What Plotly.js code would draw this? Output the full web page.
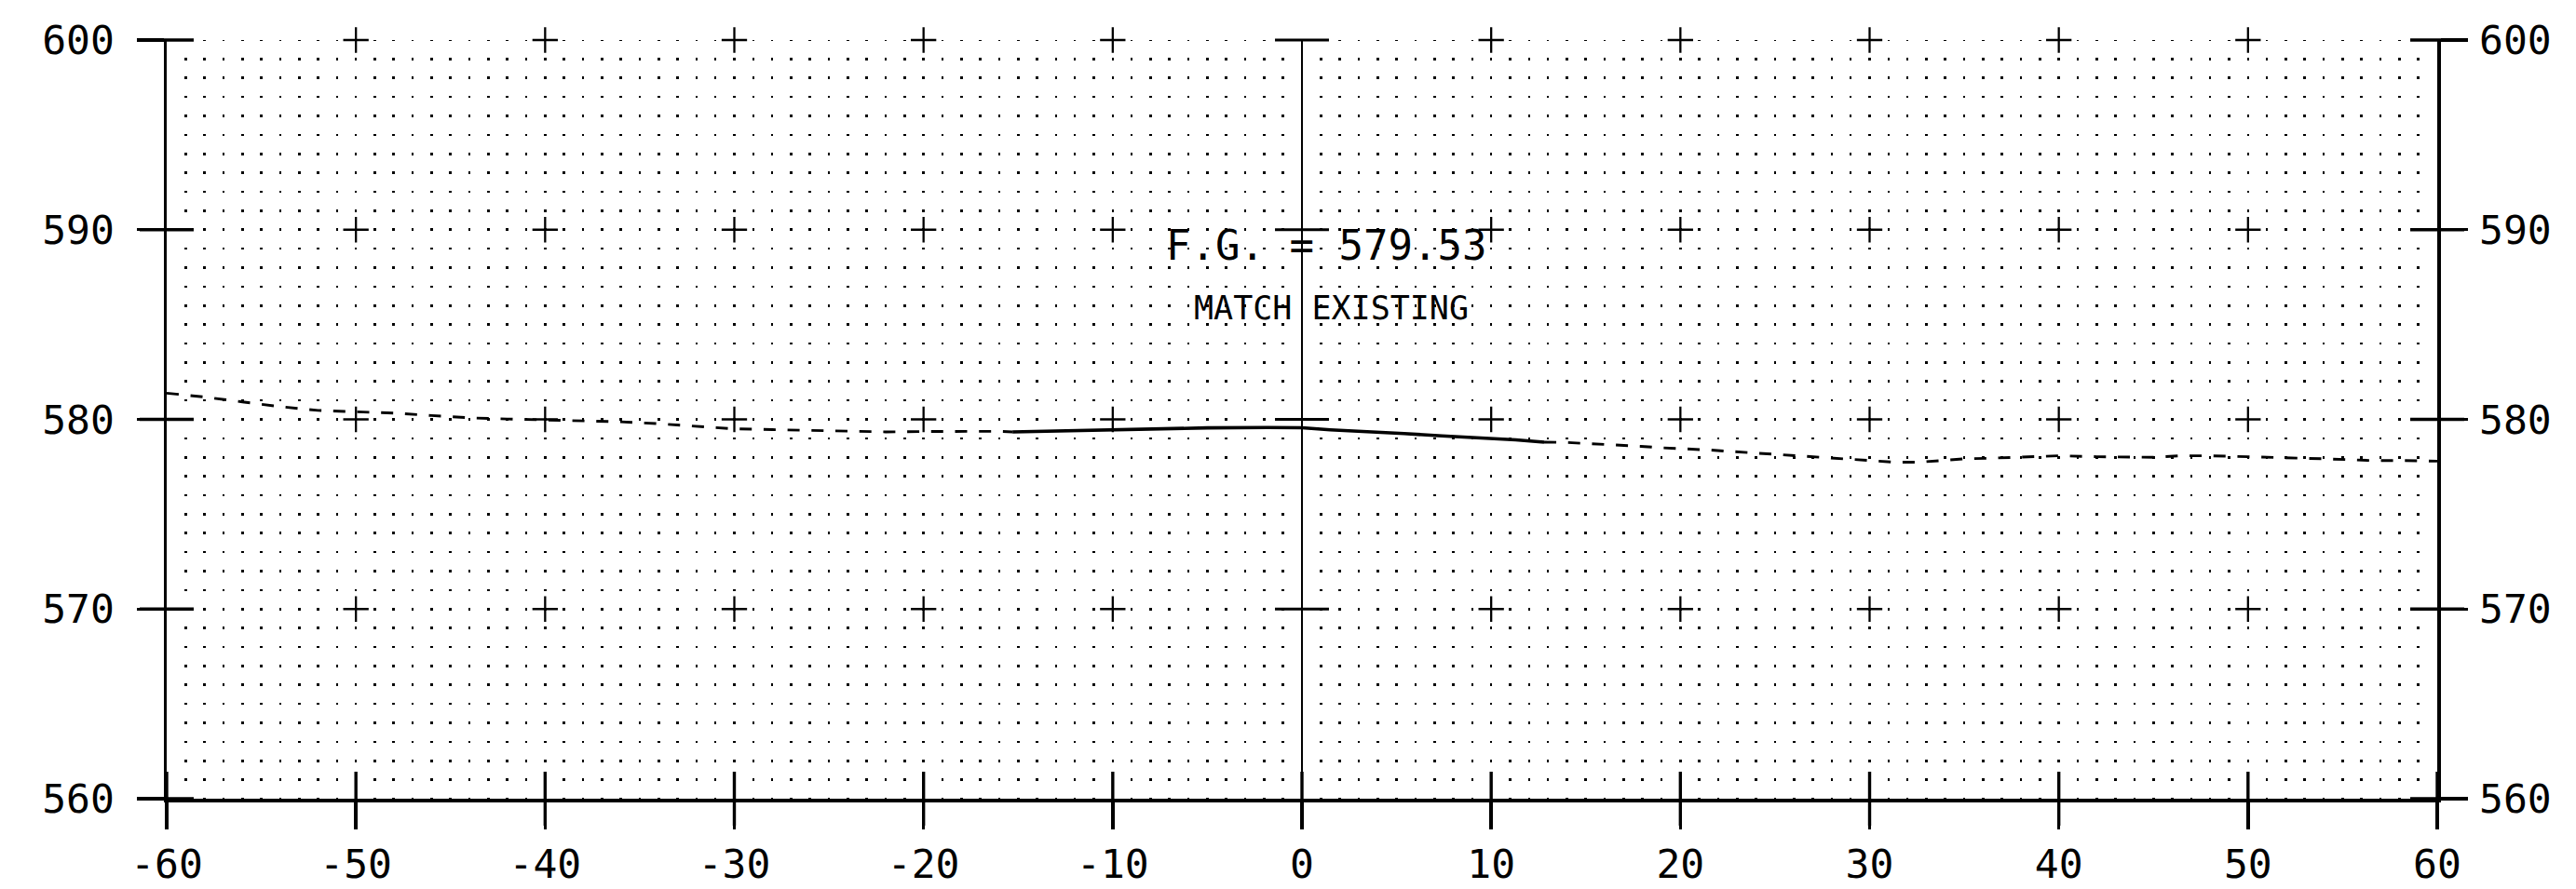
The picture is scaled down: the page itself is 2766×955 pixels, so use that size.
<!DOCTYPE html>
<html>
<head>
<meta charset="utf-8">
<script src="https://cdn.plot.ly/plotly-3.0.1.min.js"></script>
<style>
  html, body { margin: 0; padding: 0; background: #ffffff; }
  #chart { width: 2766px; height: 955px; }
</style>
</head>
<body>
<div id="chart"></div>
<script>
// ---- tick values / labels ----
const xTickVals = [-60, -50, -40, -30, -20, -10, 0, 10, 20, 30, 40, 50, 60];
const xTickText = ['-60', '-50', '-40', '-30', '-20', '-10', '0', '10', '20', '30', '40', '50', '60'];
const yTickVals = [560, 570, 580, 590, 600];
const yTickText = ['560', '570', '580', '590', '600'];

// ---- existing ground (dashed) ----
const existingX = [-60, -58, -56, -54, -52, -50, -48, -46, -44, -42, -40, -38, -36, -34, -32, -30,
                   -28, -26, -24, -22, -20, -18, -16, -15.3,
                   null,
                   12.8, 14, 15.2, 16.5, 17.9, 19.1, 20.4, 21.6, 22.8, 24.1, 25.4, 26.6, 27.9, 29.2,
                   30, 31.3, 32.5, 33.8, 35, 36.3, 37.6, 38.8, 40, 42, 44, 45, 46.4, 48, 50,
                   51.5, 52.8, 54, 55.2, 56.5, 58, 60];
const existingY = [581.38, 581.18, 580.92, 580.67, 580.47, 580.40, 580.33, 580.20, 580.08, 580.02,
                   579.98, 579.92, 579.87, 579.77, 579.65, 579.50, 579.46, 579.42, 579.38, 579.34,
                   579.36, 579.37, 579.37, 579.34,
                   null,
                   578.80, 578.78, 578.72, 578.67, 578.58, 578.50, 578.45, 578.38, 578.30, 578.22,
                   578.13, 578.05, 577.97, 577.88, 577.83, 577.74, 577.74, 577.83, 577.92, 577.95,
                   578.00, 578.03, 578.08, 578.03, 578.03, 578.00, 578.08, 578.08, 578.03,
                   578.00, 577.95, 577.92, 577.88, 577.83, 577.83, 577.80];

// ---- proposed grade (solid) ----
const proposedX = [-15.3, -12, -8.6, -5, -1.8, 0, 1.5, 3.5, 5.4, 7.4, 9.3, 11.3, 12.8];
const proposedY = [579.34, 579.42, 579.50, 579.55, 579.57, 579.56, 579.45, 579.37, 579.25, 579.13, 579.03, 578.92, 578.80];

// ---- text ----
const fgLabel = 'F.G. = 579.53';
const fgPos = { x: 0, y: 589.2 };
const noteLabel = 'MATCH EXISTING';
const notePos = { x: 0, y: 585.85 };

// ---- layout geometry ----
const W = 2766, H = 955;
const M = { l: 179, r: 149, t: 43, b: 97 };
const plotH = H - M.t - M.b;
const yUnits = yTickVals[yTickVals.length - 1] - yTickVals[0];
const unitPx = plotH / yUnits;
const dotLen = 1.3;
const dotDash = dotLen + 'px,' + (unitPx - 2 * dotLen) + 'px,' + dotLen + 'px,0px';

const ink = '#000000';
const monoFont = 'DejaVu Sans Mono, Liberation Mono, monospace';
const fgSize = 44, noteSize = 35;
const monoAdvance = 0.602;

// grid crosses at interior decade intersections
const crossX = [], crossY = [];
xTickVals.forEach(function (xv) {
  if (xv === xTickVals[0] || xv === xTickVals[xTickVals.length - 1] || xv === 0) return;
  yTickVals.forEach(function (yv) {
    if (yv === yTickVals[0]) return;
    crossX.push(xv); crossY.push(yv);
  });
});

// centre-line ticks
const centerTickY = yTickVals.slice(1);
const centerTickX = centerTickY.map(function () { return 0; });
// left / right axis inner ticks
const leftTickX = yTickVals.map(function () { return xTickVals[0]; });
const rightTickX = yTickVals.map(function () { return xTickVals[xTickVals.length - 1]; });
// bottom axis inner ticks
const bottomTickY = xTickVals.map(function () { return yTickVals[0]; });

const traces = [
  {
    x: crossX, y: crossY, type: 'scatter', mode: 'markers', hoverinfo: 'skip',
    marker: { symbol: 'cross-thin', size: 19.5, color: ink, line: { color: ink, width: 2.3 } },
    cliponaxis: false, showlegend: false
  },
  {
    x: centerTickX, y: centerTickY, type: 'scatter', mode: 'markers', hoverinfo: 'skip',
    marker: { symbol: 'line-ew', size: 41.4, color: ink, line: { color: ink, width: 3.2 } },
    cliponaxis: false, showlegend: false
  },
  {
    x: leftTickX, y: yTickVals, type: 'scatter', mode: 'markers', hoverinfo: 'skip',
    marker: { symbol: 'line-ew', size: 41.4, color: ink, line: { color: ink, width: 3.4 } },
    cliponaxis: false, showlegend: false
  },
  {
    x: rightTickX, y: yTickVals, type: 'scatter', mode: 'markers', hoverinfo: 'skip', yaxis: 'y2',
    marker: { symbol: 'line-ew', size: 41.4, color: ink, line: { color: ink, width: 3.4 } },
    cliponaxis: false, showlegend: false
  },
  {
    x: xTickVals, y: bottomTickY, type: 'scatter', mode: 'markers', hoverinfo: 'skip',
    marker: { symbol: 'line-ns', size: 41.4, color: ink, line: { color: ink, width: 3.4 } },
    cliponaxis: false, showlegend: false
  },
  {
    x: existingX, y: existingY, type: 'scatter', mode: 'lines', name: 'Existing',
    connectgaps: false,
    line: { color: ink, width: 2.9, dash: '13px,12.7px' },
    showlegend: false
  },
  {
    x: proposedX, y: proposedY, type: 'scatter', mode: 'lines', name: 'Proposed',
    line: { color: ink, width: 3.6 },
    showlegend: false
  }
];

const yAxisCommon = {
  range: [yTickVals[0], yTickVals[yTickVals.length - 1]],
  tickmode: 'array', tickvals: yTickVals, ticktext: yTickText,
  tickfont: { family: monoFont, size: 43, color: ink },
  ticks: 'outside', ticklen: 29, tickwidth: 3.4, tickcolor: ink,
  showline: true, linecolor: ink, linewidth: 3.5,
  showgrid: false, zeroline: false, fixedrange: true
};

const layout = {
  width: W, height: H,
  margin: M,
  paper_bgcolor: '#ffffff', plot_bgcolor: '#ffffff',
  showlegend: false,
  xaxis: {
    range: [xTickVals[0], xTickVals[xTickVals.length - 1]],
    tickmode: 'array', tickvals: xTickVals, ticktext: xTickText,
    tickfont: { family: monoFont, size: 43, color: ink },
    ticks: 'outside', ticklen: 29, tickwidth: 3.4, tickcolor: ink,
    ticklabelstandoff: 1,
    showline: true, linecolor: ink, linewidth: 3.5,
    showgrid: true, gridcolor: ink, gridwidth: 2.6, griddash: dotDash,
    minor: { tickmode: 'linear', tick0: 0, dtick: 1, ticks: '', showgrid: true,
             gridcolor: ink, gridwidth: 2.6, griddash: dotDash },
    zeroline: true, zerolinecolor: ink, zerolinewidth: 2.4,
    fixedrange: true
  },
  yaxis: Object.assign({}, yAxisCommon, { side: 'left', ticklabelstandoff: 15 }),
  yaxis2: Object.assign({}, yAxisCommon, { side: 'right', overlaying: 'y', ticklabelstandoff: 4 }),
  annotations: [
    {
      x: fgPos.x, y: fgPos.y, xref: 'x', yref: 'y', text: fgLabel, showarrow: false,
      xanchor: 'center', yanchor: 'middle', xshift: fgSize * monoAdvance,
      font: { family: monoFont, size: fgSize, color: ink }
    },
    {
      x: notePos.x, y: notePos.y, xref: 'x', yref: 'y', text: noteLabel, showarrow: false,
      xanchor: 'center', yanchor: 'middle', xshift: 1.5 * noteSize * monoAdvance,
      font: { family: monoFont, size: noteSize, color: ink }
    }
  ]
};

Plotly.newPlot('chart', traces, layout, { staticPlot: true, displayModeBar: false });
</script>
</body>
</html>
